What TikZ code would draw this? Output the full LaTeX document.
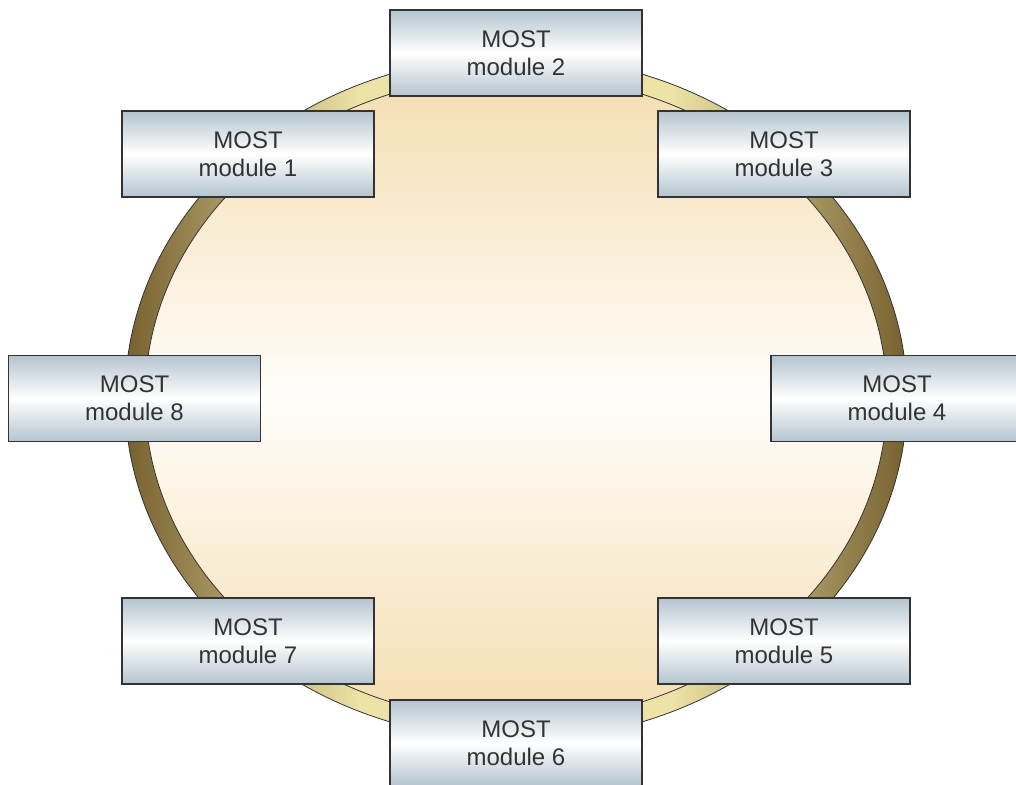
\documentclass[tikz,border=0pt]{standalone}
\usepackage{fontspec}
\setmainfont{Liberation Sans}
\definecolor{ringdark}{HTML}{76602F}
\definecolor{ringlight}{HTML}{EDE3A6}
\definecolor{discedge}{HTML}{F4DDB0}
\definecolor{disccentre}{HTML}{FFFDFA}
\definecolor{boxedge}{HTML}{B4C4CF}
\definecolor{boxline}{HTML}{333333}
\definecolor{txt}{HTML}{333333}
% ring colour: dark at the sides, pale across the middle
\pgfdeclarehorizontalshading{ringshade}{100bp}{
  color(0bp)=(ringdark); color(25bp)=(ringdark); color(40bp)=(ringlight);
  color(60bp)=(ringlight); color(75bp)=(ringdark); color(100bp)=(ringdark)}
\tikzset{
  module/.style={draw=boxline, line width=1.4pt, rectangle,
    minimum width=252pt, minimum height=86pt, inner sep=0pt,
    top color=boxedge, bottom color=boxedge, middle color=white,
    align=center, text=txt, font=\fontsize{24}{28}\selectfont}
}
\begin{document}
\begin{tikzpicture}[x=1pt,y=-1pt]
  \useasboundingbox (0,0) rectangle (1016,784);
  % fibre-optic ring
  \shade[shading=ringshade]
    (516,398) ellipse [x radius=391, y radius=342];
  \draw[black!80, line width=0.8pt] (516,398) ellipse [x radius=391, y radius=342];
  % inner disc
  \shade[top color=discedge, bottom color=discedge, middle color=disccentre]
    (516,398) ellipse [x radius=371, y radius=323];
  \draw[black!80, line width=0.8pt] (516,398) ellipse [x radius=371, y radius=323];
  % modules on the ring
  \node[module] (m2) at (516,53)  {MOST\\module 2};
  \node[module] (m1) at (248,154) {MOST\\module 1};
  \node[module] (m3) at (784,154) {MOST\\module 3};
  \node[module] (m8) at (134.5,398.5) {MOST\\module 8};
  \node[module] (m4) at (897,398.5) {MOST\\module 4};
  \node[module] (m7) at (248,641) {MOST\\module 7};
  \node[module] (m5) at (784,641) {MOST\\module 5};
  \node[module] (m6) at (516,743) {MOST\\module 6};
\end{tikzpicture}
\end{document}
